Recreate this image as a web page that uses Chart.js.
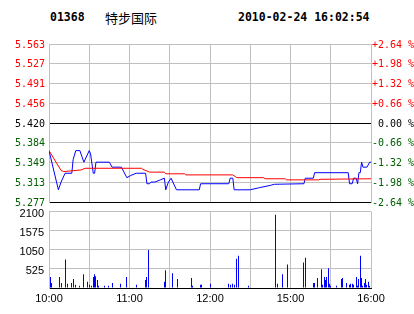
<!DOCTYPE html>
<html>
<head>
<meta charset="utf-8">
<script src="https://cdn.jsdelivr.net/npm/chart.js@4.4.0/dist/chart.umd.min.js"></script>
<style>
  body { margin: 0; background: #fff; }
  #wrap { position: relative; width: 414px; height: 314px; overflow: hidden; }
  canvas { position: absolute; left: 0; }
  #price { top: 0; }
  #volume { top: 200px; }
  .hd { position: absolute; top: 10px; line-height: 14px; font: bold 11.5px 'DejaVu Sans Mono'; color: #000; white-space: pre; }
  .cn { top: 8px; font: 13px 'Noto Sans CJK SC'; }
</style>
</head>
<body>
<div id="wrap">
  <div class="hd" style="left:50px">01368</div>
  <div class="hd cn" style="left:105px">特步国际</div>
  <div class="hd" style="left:238px">2010-02-24 16:02:54</div>
  <canvas id="price" width="414" height="212"></canvas>
  <canvas id="volume" width="414" height="114"></canvas>
</div>
<script>
// previous close and percentage ticks
const preClose = 5.42;
const pctTicks = [-2.64, -1.98, -1.32, -0.66, 0, 0.66, 1.32, 1.98, 2.64];
const priceTickLabels = ['5.277', '5.313', '5.349', '5.384', '5.420', '5.456', '5.491', '5.527', '5.563'];

// minutes since 10:00 (trading minutes, lunch break removed)
const timeTicks = [0, 60, 120, 180, 240];
const timeLabels = ['10:00', '11:00', '12:00', '15:00', '16:00'];
const volTicks = [0, 525, 1050, 1575, 2100];

// last price
const priceMin = [0, 7, 9, 12, 17, 18, 20, 23, 26, 30, 31, 33, 34, 35, 45, 47, 54, 58, 61, 65,
  72, 73, 75, 76, 79, 83, 86, 87, 89, 91, 95, 112, 113, 134, 135, 137, 138, 150, 157, 161,
  165, 168, 190, 191, 197, 198, 223, 224, 226, 227, 229, 230, 231, 232, 233, 234, 237, 239, 240];
const priceVal = [5.370, 5.299, 5.313, 5.329, 5.329, 5.354, 5.370, 5.370, 5.349, 5.370, 5.364, 5.329, 5.329, 5.349, 5.349, 5.340, 5.340, 5.321, 5.325, 5.329,
  5.329, 5.310, 5.310, 5.313, 5.313, 5.317, 5.320, 5.299, 5.313, 5.320, 5.299, 5.299, 5.310, 5.310, 5.320, 5.320, 5.299, 5.299, 5.303, 5.305,
  5.307, 5.309, 5.310, 5.320, 5.320, 5.330, 5.330, 5.310, 5.310, 5.320, 5.320, 5.310, 5.330, 5.330, 5.349, 5.340, 5.340, 5.349, 5.349];

// average price
const avgMin = [0, 9, 11, 24, 27, 69, 70, 75, 86, 87, 101, 102, 137, 140, 160, 161, 176, 177, 201, 202, 240];
const avgVal = [5.370, 5.334, 5.332, 5.335, 5.338, 5.338, 5.336, 5.331, 5.331, 5.328, 5.328, 5.326, 5.326, 5.321, 5.321, 5.319, 5.319, 5.317, 5.317, 5.318, 5.319];

// volume
const volMin = [1, 2, 8, 9, 12, 14, 17, 18, 20, 23, 26, 29, 30, 32, 33, 34, 35, 36, 37, 41,
  44, 47, 53, 58, 65, 72, 73, 74, 86, 87, 92, 96, 106, 107, 113, 114, 120, 134, 135, 137,
  138, 140, 141, 149, 169, 170, 174, 178, 190, 191, 197, 198, 200, 203, 204, 205, 206, 207, 208, 209,
  210, 214, 218, 219, 222, 224, 225, 226, 227, 229, 230, 231, 232, 233, 234, 235, 236, 237, 238, 239];
const volVal = [300, 140, 300, 140, 780, 115, 140, 245, 90, 60, 380, 170, 90, 60, 300, 380, 325, 220, 60, 60,
  60, 140, 115, 300, 90, 220, 300, 1045, 170, 485, 405, 245, 275, 60, 90, 90, 115, 115, 90, 115,
  90, 805, 885, 60, 2010, 115, 380, 645, 700, 830, 140, 140, 275, 515, 90, 300, 220, 300, 540, 115,
  60, 60, 245, 275, 140, 90, 115, 115, 90, 300, 60, 245, 885, 275, 60, 140, 245, 90, 170, 60];

const gridGray = '#c0c0c0';
const monoFont = { family: 'DejaVu Sans Mono', size: 10 };
const sansFont = { family: 'Liberation Sans', size: 11 };

function pctColor(p) {
  if (p > 0.001) return '#ff0000';
  if (p < -0.001) return '#006000';
  return '#000000';
}

function pctLabel(p) {
  if (Math.abs(p) < 0.001) return ' 0.00 %';
  return (p > 0 ? '+' : '-') + Math.abs(p).toFixed(2) + ' %';
}

const toPct = v => (v / preClose - 1) * 100;
const points = (xs, ys) => xs.map((x, i) => ({ x: x, y: ys[i] }));

// keep 1px volume bars on whole pixels so they stay solid
const crispBars = {
  id: 'crispBars',
  beforeDatasetsDraw(chart) {
    chart.getDatasetMeta(0).data.forEach(bar => { bar.x = Math.floor(bar.x) + 0.5; });
  }
};

new Chart(document.getElementById('price'), {
  type: 'line',
  data: {
    datasets: [
      { data: points(avgMin, avgVal), borderColor: '#ff0000', borderWidth: 1, pointRadius: 0, tension: 0 },
      { data: points(priceMin, priceVal), borderColor: '#0000ff', borderWidth: 1, pointRadius: 0, tension: 0 }
    ]
  },
  options: {
    responsive: false,
    animation: false,
    layout: { padding: { top: 44, bottom: 9, left: 0, right: 0 } },
    plugins: { legend: { display: false }, tooltip: { enabled: false } },
    scales: {
      x: {
        type: 'linear', min: 0, max: 240,
        ticks: { display: false, stepSize: 30 },
        grid: { color: gridGray, drawTicks: false },
        border: { color: '#000' },
        afterFit: s => { s.height = 0; }
      },
      y: {
        position: 'left',
        min: preClose * (1 - 0.0264),
        max: preClose * (1 + 0.0264),
        afterBuildTicks: s => { s.ticks = pctTicks.map(p => ({ value: preClose * (1 + p / 100) })); },
        ticks: {
          callback: (v, i) => priceTickLabels[i],
          color: c => pctColor(toPct(c.tick.value)),
          font: monoFont,
          padding: 4,
          labelOffset: 1
        },
        grid: {
          drawTicks: false,
          color: c => {
            const p = toPct(c.tick.value);
            return (Math.abs(p) < 0.001 || p < -2.6) ? '#000' : gridGray;
          }
        },
        border: { color: gridGray },
        afterFit: s => { s.width = 49; }
      },
      y2: {
        position: 'right',
        min: -2.64, max: 2.64,
        afterBuildTicks: s => { s.ticks = pctTicks.map(p => ({ value: p })); },
        ticks: {
          callback: v => pctLabel(v),
          color: c => pctColor(c.tick.value),
          font: monoFont,
          padding: 1,
          labelOffset: 1
        },
        grid: { display: false, drawTicks: false },
        border: { color: gridGray },
        afterFit: s => { s.width = 43; }
      }
    }
  }
});

new Chart(document.getElementById('volume'), {
  type: 'bar',
  data: {
    datasets: [
      { data: points(volMin, volVal), backgroundColor: '#0000ff', barThickness: 1, inflateAmount: 0 }
    ]
  },
  options: {
    responsive: false,
    animation: false,
    layout: { padding: { top: 9, bottom: 0, left: 0, right: 43 } },
    plugins: { legend: { display: false }, tooltip: { enabled: false } },
    scales: {
      x: {
        type: 'linear', min: 0, max: 240, offset: false,
        ticks: {
          stepSize: 30,
          autoSkip: false,
          maxRotation: 0,
          callback: v => {
            const i = timeTicks.indexOf(v);
            return i >= 0 ? timeLabels[i] : '';
          },
          font: sansFont,
          color: '#000',
          padding: 4
        },
        grid: { color: gridGray, drawTicks: false, offset: false },
        border: { color: '#000' },
        afterFit: s => { s.height = 26; }
      },
      y: {
        min: 0, max: 2100,
        afterBuildTicks: s => { s.ticks = volTicks.map(v => ({ value: v })); },
        ticks: {
          callback: v => (v === 0 ? '' : String(v)),
          font: sansFont,
          color: '#000',
          padding: 5,
          labelOffset: 2
        },
        grid: { color: gridGray, drawTicks: false },
        border: { color: gridGray },
        afterFit: s => { s.width = 49; }
      }
    }
  },
  plugins: [crispBars]
});
</script>
</body>
</html>
